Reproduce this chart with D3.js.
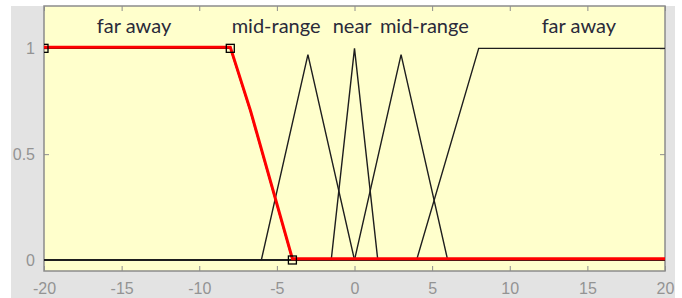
<!DOCTYPE html>
<html>
<head>
<meta charset="utf-8">
<script src="https://cdn.jsdelivr.net/npm/d3@7"></script>
<style>
  body { margin: 0; background: #fff; }
  .tick-label { font-family: "Liberation Sans", Arial, sans-serif; font-size: 16px; fill: #939393; }
  .mf-label { font-family: Lato, "Open Sans", sans-serif; font-size: 20px; fill: #2a2a3a; }
</style>
</head>
<body>
<div id="chart"></div>
<script>
// tick values
var xTicks = [-20, -15, -10, -5, 0, 5, 10, 15, 20];
var yTicks = [0, 0.5, 1];

// membership functions (x, degree)
var farLeft  = [[-20, 1], [-8, 1], [-6.7, 0.7], [-4, 0], [20, 0]];
var midLeft  = [[-20, 0], [-6, 0], [-3, 0.97], [0, 0], [20, 0]];
var nearMf   = [[-20, 0], [-1.5, 0], [0, 1], [1.5, 0], [20, 0]];
var midRight = [[-20, 0], [0, 0], [3, 0.97], [6, 0], [20, 0]];
var farRight = [[-20, 0], [4, 0], [8, 1], [20, 1]];

// editable control points on the selected function
var handles = [[-20, 1], [-8, 1], [-4, 0]];

// labels: text and x position (data units)
var labelNames = ['far away', 'mid-range', 'near', 'mid-range', 'far away'];
var labelX = [-14.2, -5.05, -0.15, 4.5, 14.45];

var W = 682, H = 298;
var margin = { top: 6, right: 17, bottom: 27, left: 44 };
var plotW = W - margin.left - margin.right;
var plotH = H - margin.top - margin.bottom;

var svg = d3.select('#chart').append('svg')
    .attr('width', W)
    .attr('height', H);

// figure background
svg.append('rect')
    .attr('x', 11).attr('y', 6)
    .attr('width', 664).attr('height', H - 6)
    .attr('fill', '#e3e3e3');

var xScale = d3.scaleLinear().domain([-20, 20]).range([0, plotW]);
var yScale = d3.scaleLinear().domain([-0.052, 1.2]).range([plotH, 0]);

var g = svg.append('g')
    .attr('transform', 'translate(' + margin.left + ',' + margin.top + ')');

g.append('rect')
    .attr('width', plotW).attr('height', plotH)
    .attr('fill', '#ffffcc');

g.append('defs').append('clipPath').attr('id', 'clip')
    .append('rect').attr('width', plotW).attr('height', plotH);

// axes (ticks pointing inwards, mirrored on top and right)
var axisColor = '#8c8c8c';
function styleAxis(sel) {
    sel.select('.domain').remove();
    sel.selectAll('line').attr('stroke', axisColor);
}
var plain = function (d) { return String(d); };

g.append('g').attr('transform', 'translate(0,' + plotH + ')')
    .call(d3.axisBottom(xScale).tickValues(xTicks).tickSizeInner(-5).tickSizeOuter(0).tickPadding(12).tickFormat(plain))
    .call(styleAxis)
    .selectAll('text').attr('class', 'tick-label').attr('fill', null);
g.append('g')
    .call(d3.axisTop(xScale).tickValues(xTicks).tickSizeInner(-5).tickSizeOuter(0).tickFormat(''))
    .call(styleAxis);
g.append('g')
    .call(d3.axisLeft(yScale).tickValues(yTicks).tickSizeInner(-5).tickSizeOuter(0).tickPadding(9).tickFormat(plain))
    .call(styleAxis)
    .selectAll('text').attr('class', 'tick-label').attr('fill', null);
g.append('g').attr('transform', 'translate(' + plotW + ',0)')
    .call(d3.axisRight(yScale).tickValues(yTicks).tickSizeInner(-5).tickSizeOuter(0).tickFormat(''))
    .call(styleAxis);

// plot border
g.append('rect')
    .attr('width', plotW).attr('height', plotH)
    .attr('fill', 'none')
    .attr('stroke', '#8c8c8c')
    .attr('stroke-width', 1.5);

var line = d3.line()
    .x(function (d) { return xScale(d[0]); })
    .y(function (d) { return yScale(d[1]); });

var layer = g.append('g').attr('clip-path', 'url(#clip)');

[farLeft, midLeft, nearMf, midRight, farRight].forEach(function (mf) {
    layer.append('path')
        .datum(mf)
        .attr('d', line)
        .attr('fill', 'none')
        .attr('stroke', '#1e1e1e')
        .attr('stroke-width', 1.4);
});

// selected function in red
layer.append('path')
    .datum(farLeft)
    .attr('d', line)
    .attr('transform', 'translate(0,-1.2)')
    .attr('fill', 'none')
    .attr('stroke', '#ff0000')
    .attr('stroke-width', 3);

layer.selectAll('rect.handle')
    .data(handles)
    .enter().append('rect')
    .attr('class', 'handle')
    .attr('x', function (d) { return xScale(d[0]) - 4; })
    .attr('y', function (d) { return yScale(d[1]) - 4; })
    .attr('width', 8).attr('height', 8)
    .attr('fill', 'none')
    .attr('stroke', '#000')
    .attr('stroke-width', 1.3);

g.selectAll('text.mf-label')
    .data(labelNames)
    .enter().append('text')
    .attr('class', 'mf-label')
    .attr('x', function (d, i) { return xScale(labelX[i]); })
    .attr('y', 27)
    .attr('text-anchor', 'middle')
    .text(function (d) { return d; });
</script>
</body>
</html>
